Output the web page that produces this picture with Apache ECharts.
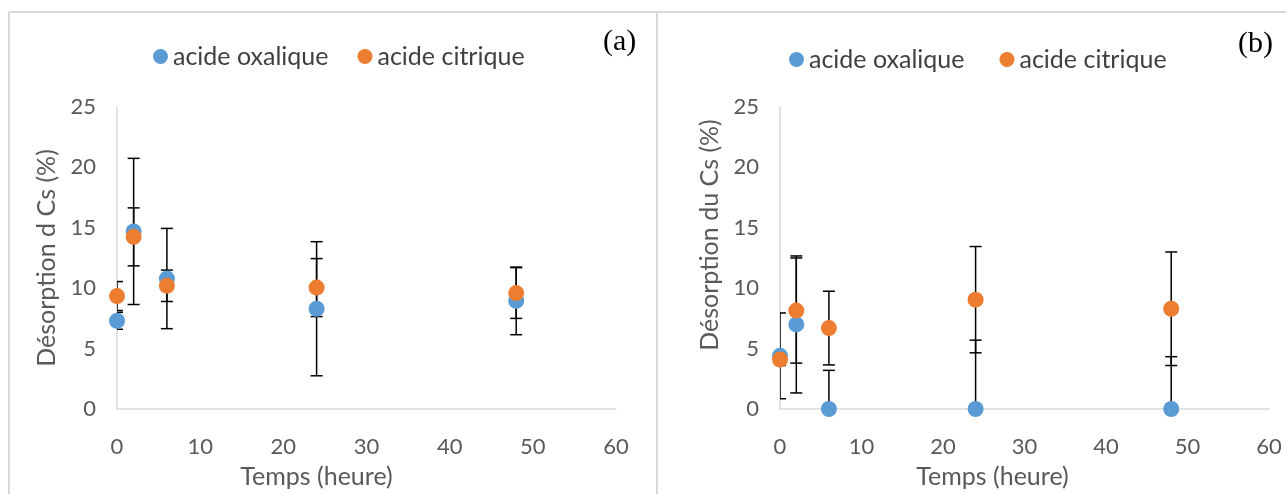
<!DOCTYPE html>
<html lang="fr">
<head>
    <meta charset="UTF-8">
    <title>Désorption du Cs</title>
    <script src="https://cdn.jsdelivr.net/npm/echarts@6/dist/echarts.min.js"></script>
</head>
<body style="margin:0;background:#fff">
<div id="main" style="width:1286px;height:494px;"></div>
<script type="text/javascript">
    // panneau (a)
    var tempsA = [0, 2, 6, 24, 48];
    var oxaliqueA = [7.3, 14.7, 10.8, 8.3, 8.95];
    var oxaliqueErrA = [0.7, 6.05, 4.15, 5.55, 2.8];
    var citriqueA = [9.35, 14.25, 10.2, 10.05, 9.6];
    var citriqueErrA = [1.2, 2.4, 1.3, 2.4, 2.1];

    // panneau (b)
    var tempsB = [0, 2, 6, 24, 48];
    var oxaliqueB = [4.4, 7.0, 0, 0, 0];
    var oxaliqueErrB = [3.55, 5.67, 3.2, 5.7, 4.33];
    var citriqueB = [4.1, 8.15, 6.7, 9.05, 8.3];
    var citriqueErrB = [0.5, 4.35, 3.05, 4.4, 4.7];

    var xTicks = [0, 10, 20, 30, 40, 50, 60];
    var yTicks = [0, 5, 10, 15, 20, 25];

    var BLUE = '#5B9BD5';
    var ORANGE = '#ED7D31';
    var GREY = '#595959';
    var FONT = 'Lato';

    function pts(xs, ys) {
        return xs.map(function (x, i) { return [x, ys[i]]; });
    }
    function errPts(xs, ys, es) {
        return xs.map(function (x, i) { return [x, ys[i], es[i]]; });
    }

    // barre d'erreur verticale avec chapeaux
    function renderErr(params, api) {
        var x = api.value(0), y = api.value(1), e = api.value(2);
        var hi = api.coord([x, y + e]);
        var lo = api.coord([x, y - e]);
        var w = 6;
        var st = {stroke: '#000', lineWidth: 1.5};
        return {
            type: 'group',
            children: [
                {type: 'line', shape: {x1: hi[0], y1: hi[1], x2: lo[0], y2: lo[1]}, style: st},
                {type: 'line', shape: {x1: hi[0] - w, y1: hi[1], x2: hi[0] + w, y2: hi[1]}, style: st},
                {type: 'line', shape: {x1: lo[0] - w, y1: lo[1], x2: lo[0] + w, y2: lo[1]}, style: st}
            ]
        };
    }

    function xAxis(idx, pad) {
        return {
            type: 'value', gridIndex: idx, min: xTicks[0], max: xTicks[xTicks.length - 1], interval: 10,
            name: 'Temps (heure)', nameLocation: 'middle', nameGap: 55,
            nameTextStyle: {color: GREY, fontSize: 25, fontFamily: FONT, padding: pad},
            axisLine: {show: true, onZero: false, lineStyle: {color: '#d9d9d9', width: 1.5}},
            axisTick: {show: false}, splitLine: {show: false},
            axisLabel: {color: GREY, fontSize: 22, fontFamily: FONT, margin: 27}
        };
    }
    function yAxis(idx, name, pad) {
        return {
            type: 'value', gridIndex: idx, min: yTicks[0], max: yTicks[yTicks.length - 1], interval: 5,
            name: name, nameLocation: 'middle', nameGap: 58,
            nameTextStyle: {color: GREY, fontSize: 25, fontFamily: FONT, padding: pad},
            axisLine: {show: true, lineStyle: {color: '#d9d9d9', width: 1.5}},
            axisTick: {show: false}, splitLine: {show: false},
            axisLabel: {color: GREY, fontSize: 22, fontFamily: FONT, margin: 21}
        };
    }
    function scatter(name, idx, data, color) {
        return {
            name: name, type: 'scatter', xAxisIndex: idx, yAxisIndex: idx, z: 3,
            symbol: 'circle', symbolSize: 16, clip: false,
            itemStyle: {color: color, opacity: 1}, data: data
        };
    }
    function errBars(idx, data) {
        return {
            type: 'custom', xAxisIndex: idx, yAxisIndex: idx, z: 1, clip: true,
            encode: {x: 0, y: 1}, renderItem: renderErr, data: data, silent: true
        };
    }

    var myChart = echarts.init(document.getElementById('main'));

    var option = {
        animation: false,
        backgroundColor: '#fff',
        textStyle: {fontFamily: FONT},
        grid: [
            {left: 117, right: 670, top: 107, bottom: 79},
            {left: 780, right: 17, top: 107, bottom: 80}
        ],
        legend: [
            {
                left: 148, top: 39, itemWidth: 15, itemHeight: 15, itemGap: 29, icon: 'circle',
                textStyle: {color: '#404040', fontSize: 25, fontFamily: FONT},
                data: ['acide oxalique', 'acide citrique']
            },
            {
                left: 784, top: 42, itemWidth: 15, itemHeight: 15, itemGap: 35, icon: 'circle',
                textStyle: {color: '#404040', fontSize: 25, fontFamily: FONT},
                data: ['acide oxalique', 'acide citrique']
            }
        ],
        xAxis: [xAxis(0, [0, 100, 0, 0]), xAxis(1, [0, 64, 0, 0])],
        yAxis: [yAxis(0, 'Désorption d Cs (%)', 0), yAxis(1, 'Désorption du Cs (%)', [0, 0, 0, 46])],
        graphic: [
            {type: 'line', shape: {x1: 9, y1: 12, x2: 1286, y2: 12}, style: {stroke: '#d9d9d9', lineWidth: 2}},
            {type: 'line', shape: {x1: 9, y1: 12, x2: 9, y2: 494}, style: {stroke: '#d9d9d9', lineWidth: 2}},
            {type: 'line', shape: {x1: 657, y1: 12, x2: 657, y2: 494}, style: {stroke: '#d9d9d9', lineWidth: 2}},
            {type: 'text', left: 603, top: 27, style: {text: '(a)', fontSize: 30, fontFamily: 'Liberation Serif', fill: '#000'}},
            {type: 'text', left: 1238, top: 29, style: {text: '(b)', fontSize: 30, fontFamily: 'Liberation Serif', fill: '#000'}}
        ],
        series: [
            errBars(0, errPts(tempsA, oxaliqueA, oxaliqueErrA)),
            errBars(0, errPts(tempsA, citriqueA, citriqueErrA)),
            scatter('acide oxalique', 0, pts(tempsA, oxaliqueA), BLUE),
            scatter('acide citrique', 0, pts(tempsA, citriqueA), ORANGE),
            errBars(1, errPts(tempsB, oxaliqueB, oxaliqueErrB)),
            errBars(1, errPts(tempsB, citriqueB, citriqueErrB)),
            scatter('acide oxalique', 1, pts(tempsB, oxaliqueB), BLUE),
            scatter('acide citrique', 1, pts(tempsB, citriqueB), ORANGE)
        ]
    };
    myChart.setOption(option);
</script>
</body>
</html>
